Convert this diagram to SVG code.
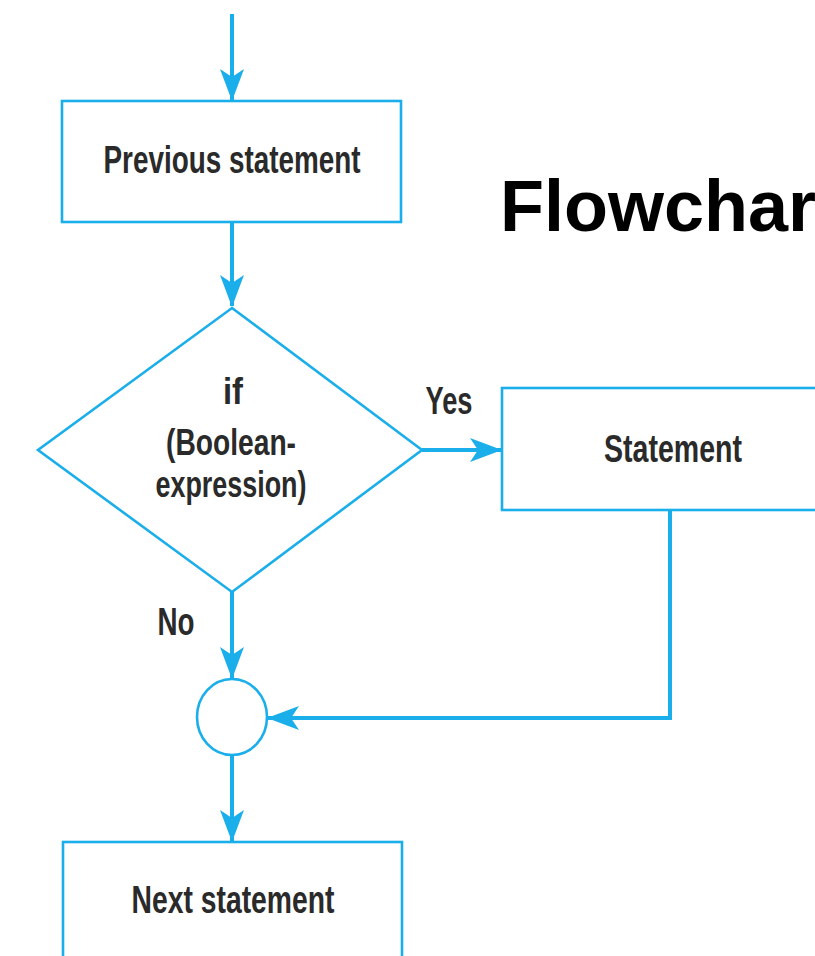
<svg xmlns="http://www.w3.org/2000/svg" width="815" height="956" viewBox="0 0 815 956">
  <style>
    .shape { fill: #ffffff; stroke: #1aaeea; stroke-width: 2.6; }
    .wire { fill: none; stroke: #1aaeea; stroke-width: 4; marker-end: url(#head); }
    .label { font-family: "Liberation Sans", Arial, sans-serif; font-weight: bold; fill: #2a2a2a; text-anchor: middle; }
    .big { font-size: 38px; }
    .small { font-size: 36px; }
    .title { font-family: "Liberation Sans", Arial, sans-serif; font-weight: bold; font-size: 72px; fill: #000000; }
  </style>
  <defs>
    <marker id="head" markerUnits="userSpaceOnUse" viewBox="0 0 32 24" refX="31" refY="12" markerWidth="32" markerHeight="24" orient="auto">
      <path d="M0,0 L32,12 L0,24 L8,12 Z" fill="#1aaeea"/>
    </marker>
  </defs>
  <rect width="815" height="956" fill="#ffffff"/>

  <text class="title" x="500" y="231">Flowchar</text>

  <g id="connectors">
    <path class="wire" d="M232,14 L232,100"/>
    <path class="wire" d="M232,222 L232,306"/>
    <path class="wire" d="M422,450 L501,450"/>
    <path class="wire" d="M232,592 L232,678"/>
    <path class="wire" d="M670,510 L670,718 L268,718"/>
    <path class="wire" d="M232,756 L232,841"/>
  </g>

  <g id="previous">
    <rect class="shape" x="62" y="101" width="339" height="121"/>
    <text class="label big" x="232" y="173" textLength="257" lengthAdjust="spacingAndGlyphs">Previous statement</text>
  </g>

  <g id="decision">
    <polygon class="shape" points="232,308 422,450 232,592 38,450"/>
    <text class="label small" x="233" y="404" textLength="20" lengthAdjust="spacingAndGlyphs">if</text>
    <text class="label small" x="231" y="455" textLength="130" lengthAdjust="spacingAndGlyphs">(Boolean-</text>
    <text class="label small" x="231" y="497" textLength="151" lengthAdjust="spacingAndGlyphs">expression)</text>
  </g>

  <g id="yes-label">
    <text class="label big" x="449" y="414" textLength="47" lengthAdjust="spacingAndGlyphs">Yes</text>
  </g>

  <g id="statement">
    <rect class="shape" x="502" y="388" width="343" height="122"/>
    <text class="label big" x="673" y="462" textLength="138" lengthAdjust="spacingAndGlyphs">Statement</text>
  </g>

  <g id="no-label">
    <text class="label big" x="176" y="635" textLength="37" lengthAdjust="spacingAndGlyphs">No</text>
  </g>

  <g id="join">
    <ellipse class="shape" cx="232" cy="717" rx="35" ry="38"/>
  </g>

  <g id="next">
    <rect class="shape" x="63" y="842" width="339" height="130"/>
    <text class="label big" x="233" y="913" textLength="203" lengthAdjust="spacingAndGlyphs">Next statement</text>
  </g>
</svg>
